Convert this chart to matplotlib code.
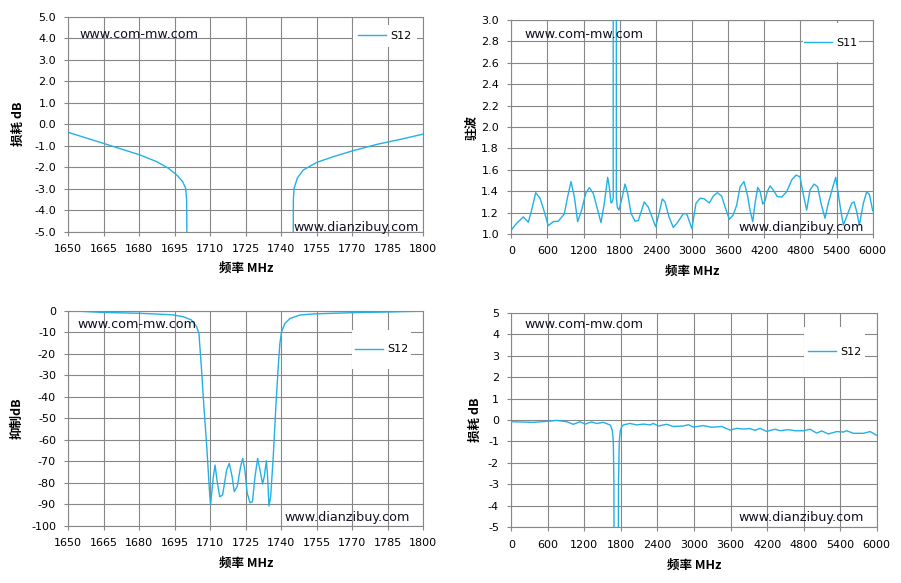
import matplotlib
matplotlib.use("Agg")
import matplotlib.pyplot as plt
from matplotlib.patches import Rectangle

plt.rcParams['font.family'] = ['DejaVu Sans', 'Noto Sans CJK SC']
plt.rcParams['axes.unicode_minus'] = False

W, H = 901, 583
LINE = '#22B0E6'
GRID = '#878787'

# ---------------- data ----------------
# top-left: passband S12 (loss dB)
tl_f_left = [1650, 1664.8, 1680.3, 1687.3, 1692.3, 1695.8, 1698.3, 1699.6, 1700.0, 1700.1, 1700.15]
tl_v_left = [-0.38, -0.89, -1.43, -1.74, -2.05, -2.36, -2.67, -2.98, -3.53, -5.0, -6.0]
tl_f_right = [1745.0, 1745.05, 1745.1, 1745.4, 1746.8, 1749.3, 1754.9, 1762.0, 1770.4, 1780.3, 1790.1, 1800]
tl_v_right = [-6.0, -5.0, -3.5, -2.98, -2.5, -2.13, -1.78, -1.51, -1.23, -0.94, -0.71, -0.46]

# top-right: S11 VSWR
tr_f = [0, 89, 200, 282, 338, 405, 477, 531, 614, 697, 780, 880, 936, 991, 1046, 1102, 1168,
        1235, 1295, 1361, 1434, 1489, 1544, 1600, 1627, 1655, 1677, 1692, 1694, 1742, 1744,
        1760, 1788, 1843, 1888, 1932, 1987, 2054, 2109, 2208, 2275, 2358, 2397, 2452, 2507,
        2552, 2618, 2690, 2762, 2856, 2911, 2967, 2998, 3066, 3133, 3199, 3287, 3354, 3420,
        3492, 3548, 3620, 3686, 3742, 3797, 3863, 3918, 3963, 4008, 4047, 4091, 4130, 4174,
        4213, 4252, 4296, 4351, 4416, 4489, 4572, 4655, 4727, 4793, 4848, 4904, 4959, 5026,
        5087, 5142, 5208, 5263, 5336, 5386, 5430, 5469, 5513, 5579, 5651, 5690, 5734, 5778,
        5845, 5900, 5945, 6000]
tr_v = [1.037, 1.10, 1.16, 1.11, 1.224, 1.386, 1.334, 1.24, 1.078, 1.115, 1.12, 1.187, 1.35,
        1.49, 1.35, 1.115, 1.224, 1.38, 1.433, 1.38, 1.224, 1.106, 1.287, 1.53, 1.44, 1.29,
        1.30, 1.34, 14.0, 14.0, 1.34, 1.25, 1.224, 1.35, 1.467, 1.38, 1.193, 1.12, 1.126,
        1.30, 1.25, 1.126, 1.068, 1.19, 1.327, 1.30, 1.16, 1.06, 1.11, 1.19, 1.19, 1.10,
        1.05, 1.287, 1.334, 1.33, 1.29, 1.355, 1.386, 1.355, 1.255, 1.137, 1.18, 1.27, 1.44,
        1.49, 1.37, 1.224, 1.115, 1.287, 1.436, 1.40, 1.28, 1.31, 1.40, 1.449, 1.41, 1.35,
        1.345, 1.395, 1.505, 1.55, 1.535, 1.37, 1.224, 1.41, 1.467, 1.44, 1.287, 1.147,
        1.287, 1.436, 1.53, 1.37, 1.224, 1.084, 1.18, 1.287, 1.30, 1.21, 1.084, 1.287,
        1.395, 1.37, 1.218]

# bottom-left: rejection S12 (dB)
bl_f = [1650, 1664.8, 1680, 1694, 1698.6, 1702, 1704.2, 1705.2, 1706.3, 1707.3, 1708.5, 1709.6,
        1710.1, 1711.3, 1712, 1713, 1714, 1715.2, 1716.9, 1718, 1719.2, 1720.1, 1721.4, 1722.8,
        1723.7, 1724.6, 1725.6, 1726.8, 1727.8, 1728.9, 1730, 1731, 1732.1, 1732.8, 1733.7,
        1734.2, 1734.8, 1735.5, 1736.6, 1737.7, 1738.7, 1739.4, 1740.1, 1741.5, 1743.7, 1747.9,
        1753.5, 1770.4, 1784.5, 1800]
bl_v = [0, -0.8, -1.2, -1.9, -2.8, -4.3, -7.4, -10.5, -27.5, -44.6, -63, -83, -90.2, -77, -71.7,
        -80, -86.4, -85.6, -74, -70.9, -77, -84, -81.6, -72.4, -68.6, -74, -84.8, -89.2, -88.7,
        -77, -68.6, -74, -80.5, -77, -69.7, -77, -90.7, -86.4, -67.8, -44.6, -26, -15.2, -9.8,
        -5.9, -3.6, -2.0, -1.5, -0.9, -0.6, -0.2]

# bottom-right: wideband S12 (loss dB)
br_f = [0, 361, 635, 745, 909, 1018, 1128, 1210, 1319, 1401, 1511, 1620, 1632, 1660, 1675, 1685,
        1688, 1755, 1760, 1773, 1790, 1813, 1840, 1949, 2058, 2168, 2277, 2332, 2414, 2551, 2661,
        2825, 2907, 2989, 3153, 3290, 3454, 3591, 3701, 3810, 3920, 4002, 4084, 4193, 4330, 4412,
        4549, 4659, 4796, 4905, 5015, 5097, 5206, 5343, 5453, 5507, 5617, 5781, 5891, 6000]
br_v = [-0.08, -0.11, -0.05, -0.02, -0.08, -0.2, -0.08, -0.19, -0.09, -0.16, -0.11, -0.23, -0.27,
        -0.5, -1.0, -3.0, -8.0, -8.0, -3.0, -1.0, -0.5, -0.31, -0.23, -0.16, -0.23, -0.19, -0.23,
        -0.16, -0.28, -0.2, -0.3, -0.28, -0.22, -0.33, -0.26, -0.34, -0.3, -0.47, -0.39, -0.42,
        -0.4, -0.48, -0.39, -0.53, -0.43, -0.5, -0.45, -0.5, -0.5, -0.43, -0.61, -0.51, -0.65,
        -0.54, -0.56, -0.5, -0.62, -0.62, -0.54, -0.71]

tl_xticks = list(range(1650, 1801, 15))
tl_yticks = [5.0, 4.0, 3.0, 2.0, 1.0, 0.0, -1.0, -2.0, -3.0, -4.0, -5.0]
tr_xticks = list(range(0, 6001, 600))
tr_yticks = [3.0, 2.8, 2.6, 2.4, 2.2, 2.0, 1.8, 1.6, 1.4, 1.2, 1.0]
bl_yticks = list(range(0, -101, -10))
br_yticks = list(range(5, -6, -1))

xlabel = '频率 MHz'
ylabels = ['损耗 dB', '驻波', '抑制dB', '损耗 dB']
legends = ['S12', 'S11', 'S12', 'S12']
wm1 = 'www.com-mw.com'
wm2 = 'www.dianzibuy.com'

# ---------------- layout (pixels) ----------------
fig = plt.figure(figsize=(W / 100, H / 100), dpi=100)
fig.patch.set_facecolor('white')


def add_ax(x0, y0, x1, y1):
    return fig.add_axes([x0 / W, 1 - y1 / H, (x1 - x0) / W, (y1 - y0) / H])


def fx(x):
    return x / W


def fy(y):
    return 1 - y / H


def style(ax, xt, yt, fmt, xlim, ylim):
    ax.set_xlim(*xlim)
    ax.set_ylim(*ylim)
    ax.set_xticks(xt)
    ax.set_yticks(yt)
    ax.set_yticklabels([fmt.format(v) for v in yt])
    ax.set_xticklabels([str(v) for v in xt])
    ax.grid(True, color=GRID, linewidth=0.8)
    ax.set_axisbelow(True)
    for s in ax.spines.values():
        s.set_color(GRID)
        s.set_linewidth(0.8)
    ax.tick_params(axis='both', direction='out', length=2.8, width=0.8, color=GRID,
                   labelsize=8, labelcolor='black')
    ax.tick_params(axis='y', pad=6)
    ax.tick_params(axis='x', pad=6)


axes_px = [(68.3, 16.7, 423.3, 231.7), (511.3, 20, 872.7, 234),
           (68.3, 310.7, 423.3, 526), (511.3, 312.7, 876.7, 527.3)]
ax_tl = add_ax(*axes_px[0])
ax_tr = add_ax(*axes_px[1])
ax_bl = add_ax(*axes_px[2])
ax_br = add_ax(*axes_px[3])

style(ax_tl, tl_xticks, tl_yticks, '{:.1f}', (1650, 1800), (-5, 5))
style(ax_tr, tr_xticks, tr_yticks, '{:.1f}', (0, 6000), (1, 3))
style(ax_bl, tl_xticks, bl_yticks, '{:d}', (1650, 1800), (-100, 0))
style(ax_br, tr_xticks, br_yticks, '{:d}', (0, 6000), (-5, 5))

lw = 1.0
l1, = ax_tl.plot(tl_f_left, tl_v_left, color=LINE, lw=lw, zorder=3)
ax_tl.plot(tl_f_right, tl_v_right, color=LINE, lw=lw, zorder=3)
l2, = ax_tr.plot(tr_f, tr_v, color=LINE, lw=lw, zorder=3)
l3, = ax_bl.plot(bl_f, bl_v, color=LINE, lw=lw, zorder=3)
l4, = ax_br.plot(br_f, br_v, color=LINE, lw=lw, zorder=3)

# legend boxes (white, no border) in pixel coords
leg_boxes = [(353, 25, 417, 47), (803, 23, 859, 62), (352, 330, 411, 369), (804, 327, 865, 377)]
for ax, (bx0, by0, bx1, by1), lab, ln in zip([ax_tl, ax_tr, ax_bl, ax_br], leg_boxes, legends,
                                              [l1, l2, l3, l4]):
    rect = Rectangle((fx(bx0), fy(by1)), (bx1 - bx0) / W, (by1 - by0) / H,
                     transform=fig.transFigure, facecolor='white', edgecolor='none', zorder=2)
    ax.add_patch(rect)
    rect.set_clip_on(False)
    leg = ax.legend([ln], [lab], loc='center', frameon=False, fontsize=8,
                    bbox_to_anchor=(fx((bx0 + bx1) / 2), fy((by0 + by1) / 2)),
                    bbox_transform=fig.transFigure, handlelength=2.5, handletextpad=0.4,
                    borderpad=0, borderaxespad=0)
    leg.set_zorder(4)

# axis labels
lab_font = dict(fontsize=9, fontweight='bold', family=['Noto Sans CJK SC', 'DejaVu Sans'])
xl_pos = [(246, 268), (692, 271), (246, 563), (694, 565)]
yl_pos = [(18, 124), (472, 127), (17, 418), (475, 420)]
for (x, y) in xl_pos:
    fig.text(fx(x), fy(y), xlabel, ha='center', va='center', **lab_font)
for (x, y), t in zip(yl_pos, ylabels):
    fig.text(fx(x), fy(y), t, ha='center', va='center', rotation=90, **lab_font)

# watermarks
wm_font = dict(fontsize=9.2, color='#101020', va='center')
wm1_pos = [(79, 35), (524, 35), (77, 324), (524, 324)]
wm2_pos = [(419, 227), (864, 227), (410, 517), (864, 517)]
for (x, y) in wm1_pos:
    fig.text(fx(x), fy(y), wm1, ha='left', zorder=5, **wm_font)
for (x, y) in wm2_pos:
    fig.text(fx(x), fy(y), wm2, ha='right', zorder=5, **wm_font)

fig.savefig('out.png', dpi=100, facecolor='white')
